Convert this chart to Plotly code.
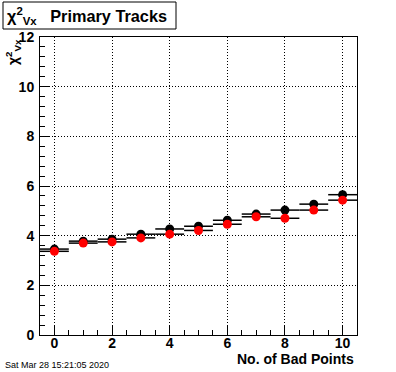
import plotly.graph_objects as go

bad_points = [0, 1, 2, 3, 4, 5, 6, 7, 8, 9, 10]
chi2_black = [3.46, 3.78, 3.86, 4.06, 4.27, 4.38, 4.62, 4.87, 5.03, 5.27, 5.65]
err_black = [0.03, 0.03, 0.04, 0.04, 0.05, 0.05, 0.06, 0.07, 0.08, 0.10, 0.13]
chi2_red = [3.37, 3.70, 3.75, 3.91, 4.06, 4.21, 4.46, 4.76, 4.70, 5.03, 5.43]
err_red = [0.03, 0.03, 0.04, 0.04, 0.05, 0.05, 0.06, 0.07, 0.08, 0.10, 0.13]
half_width = [0.5] * len(bad_points)

W, H = 396, 372
L, R, T, B = 40, 39, 37, 37
pw, ph = W - L - R, H - T - B

def px(x):
    return (x - L) / pw

def py(y):
    return 1 - (y - T) / ph

fig = go.Figure()
for ys, es, col in [(chi2_black, err_black, "black"), (chi2_red, err_red, "red")]:
    fig.add_trace(go.Scatter(
        x=bad_points, y=ys, mode="markers",
        marker=dict(symbol="circle", size=9, color=col),
        error_x=dict(type="data", array=half_width, color="black", thickness=1.5, width=0),
        error_y=dict(type="data", array=es, color="black", thickness=1.5, width=0),
        showlegend=False,
    ))

font = dict(family="Liberation Sans, Arial, sans-serif", color="black", weight="bold")
axis_common = dict(
    showline=True, linecolor="black", linewidth=1, mirror=True,
    ticks="inside", tickcolor="black", ticklen=9,
    showgrid=True, gridcolor="black", griddash="1px,2px", gridwidth=1,
    zeroline=False, tickfont=dict(size=14, **font),
)
fig.update_xaxes(range=[-0.5, 10.5], dtick=2, tick0=0, ticklabelstandoff=-5,
                 minor=dict(dtick=0.5, ticklen=5, ticks="inside", tickcolor="black", showgrid=False),
                 **axis_common)
fig.update_yaxes(range=[0, 12], dtick=2, tick0=0, ticklabelstandoff=2,
                 minor=dict(dtick=0.4, ticklen=5, ticks="inside", tickcolor="black", showgrid=False),
                 **axis_common)

fig.add_shape(type="rect", xref="paper", yref="paper",
              x0=px(3), x1=px(176), y0=py(29), y1=py(2),
              line=dict(color="black", width=1), fillcolor="white")
fig.add_annotation(xref="paper", yref="paper", x=px(5), y=py(16),
                   text="χ<sup>2</sup><sub>Vx</sub>   Primary Tracks", showarrow=False,
                   font=dict(size=16.3, **font), xanchor="left", yanchor="middle")
fig.add_annotation(xref="paper", yref="paper", x=px(13), y=py(52),
                   text="χ<sup>2</sup><sub>Vx</sub>", showarrow=False, textangle=-90,
                   font=dict(size=14, **font), xanchor="center", yanchor="middle")
fig.add_annotation(xref="paper", yref="paper", x=px(356), y=py(359),
                   text="No. of Bad Points", showarrow=False,
                   font=dict(size=14, **font), xanchor="right", yanchor="middle")
fig.add_annotation(xref="paper", yref="paper", x=px(3), y=py(365),
                   text="Sat Mar 28 15:21:05 2020", showarrow=False,
                   font=dict(size=9, family="Liberation Sans, Arial, sans-serif", color="black"),
                   xanchor="left", yanchor="middle")

fig.update_layout(width=W, height=H, margin=dict(l=L, r=R, t=T, b=B),
                  paper_bgcolor="white", plot_bgcolor="white")
fig.write_html("out.html", config={"displayModeBar": False},
               post_script="document.body.style.margin='0';document.body.style.padding='0';")
